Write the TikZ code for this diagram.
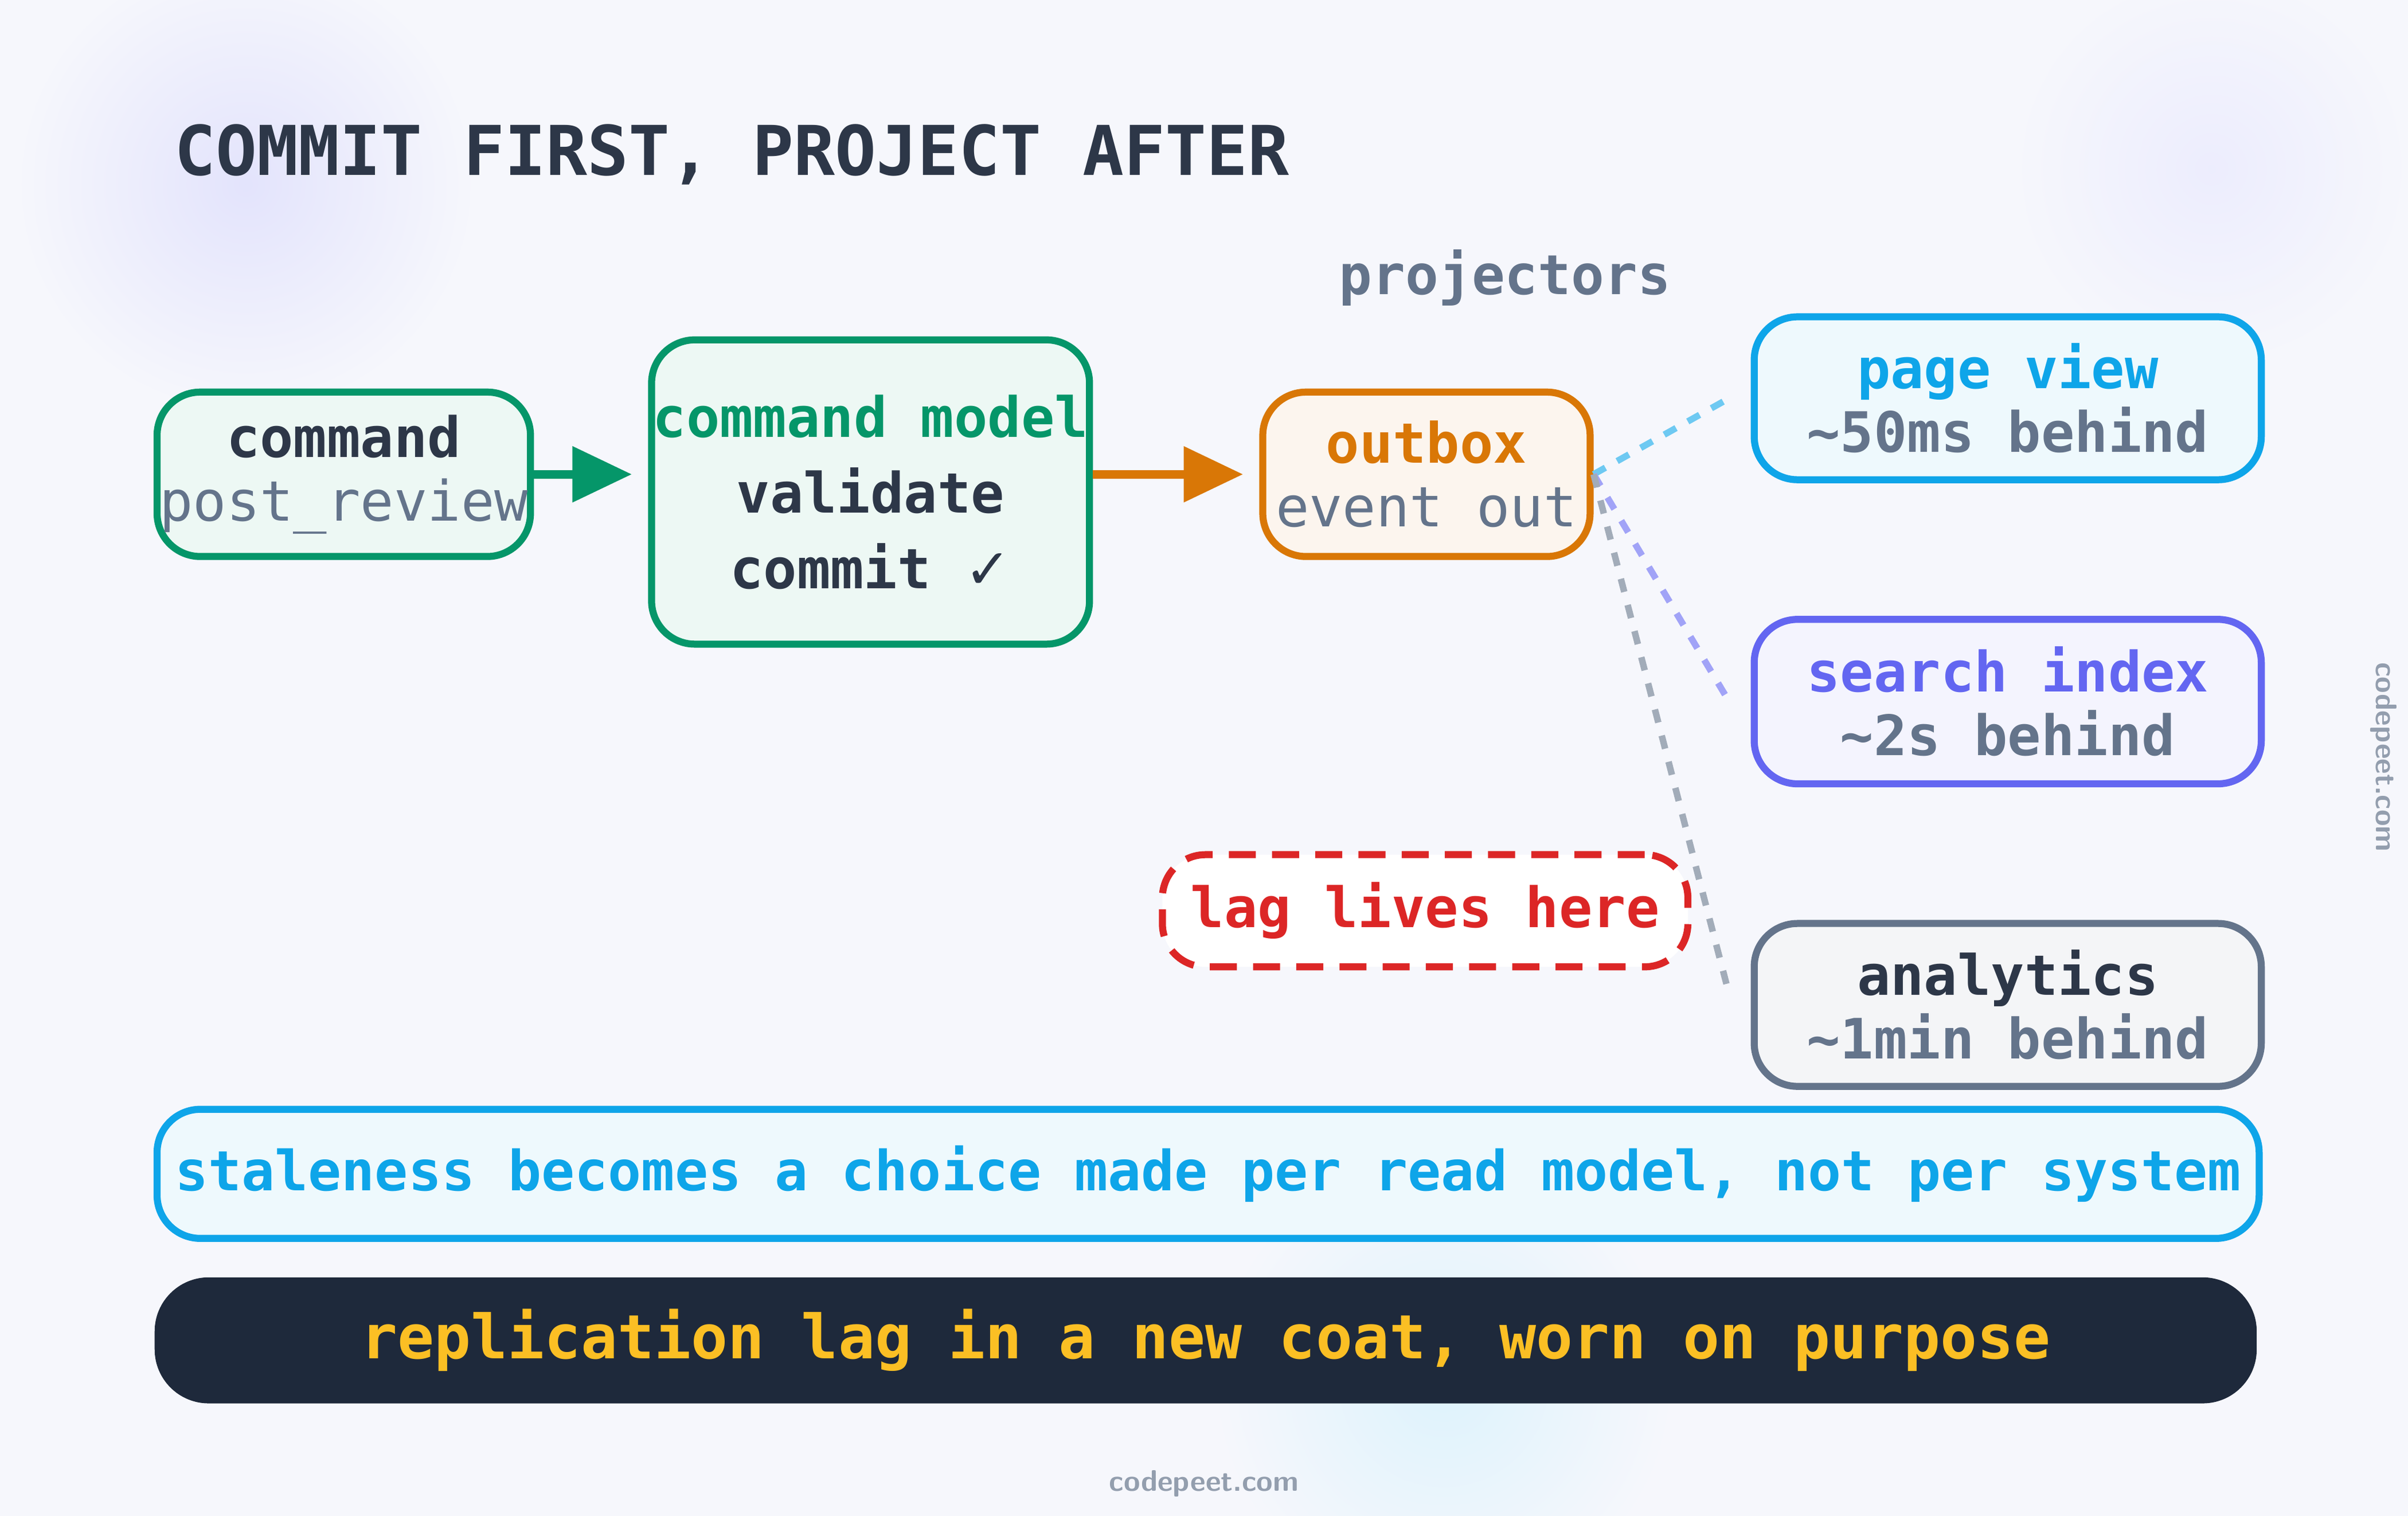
\documentclass[tikz,border=0pt]{standalone}
\usepackage{fontspec}
\setmainfont{DejaVu Sans}
\setmonofont{DejaVu Sans Mono}
\usetikzlibrary{positioning,arrows.meta}
\definecolor{ink}{HTML}{2D3748}
\definecolor{slate}{HTML}{64748B}
\definecolor{grn}{HTML}{059669}
\definecolor{org}{HTML}{D97706}
\definecolor{sky}{HTML}{0EA5E9}
\definecolor{ind}{HTML}{6366F1}
\definecolor{lagred}{HTML}{DC2626}
\definecolor{night}{HTML}{1E293B}
\definecolor{amber}{HTML}{FBBF24}
\definecolor{bg}{HTML}{F6F7FC}
\tikzset{
  txt/.style={font=\ttfamily\fontsize{10.3}{11.8}\selectfont, align=center},
  card/.style={txt, draw=#1, line width=1.3pt, rounded corners=8pt, fill=#1!7, inner sep=0pt, anchor=north west},
  link/.style={line width=1.2pt, dash pattern=on 2.5pt off 2.5pt, #1},
  flow/.style={line width=1.6pt, -{Triangle[length=11pt,width=10pt]}, #1}
}
\begin{document}
\begin{tikzpicture}[x=0.01cm,y=-0.01cm]
  \useasboundingbox (0,0) rectangle (1568,987);
  \clip (0,0) rectangle (1568,987);
  \fill[bg] (0,0) rectangle (1568,987);
  \shade[inner color=ind!18, outer color=bg] (160,120) circle (150);
  \shade[inner color=ind!12, outer color=bg] (1440,110) circle (130);
  \shade[inner color=sky!14, outer color=bg] (940,900) circle (150);

  \node[anchor=base west, inner sep=0pt, font=\ttfamily\bfseries\fontsize{12.7}{15}\selectfont, text=ink] (title) at (113,114) {COMMIT FIRST, PROJECT AFTER};

  \node[card=grn, minimum width=2.43cm, minimum height=1.07cm] (cmd) at (100,253) {\textbf{\textcolor{ink}{command}}\\\textcolor{slate}{post\_review}};
  \node[card=grn, minimum width=2.85cm, minimum height=1.98cm, font=\ttfamily\fontsize{10.3}{14}\selectfont] (model) at (422,219) {\textbf{\textcolor{grn}{command model}}\\\textbf{\textcolor{ink}{validate}}\\\textbf{\textcolor{ink}{commit \fontspec{DejaVu Sans}✓}}};
  \node[card=org, minimum width=2.13cm, minimum height=1.07cm] (outbox) at (820,253) {\textbf{\textcolor{org}{outbox}}\\\textcolor{slate}{event out}};
  \node[txt, text=slate, font=\ttfamily\bfseries\fontsize{10.2}{12}\selectfont] (proj) at (980,181) {projectors};

  \node[card=sky, minimum width=3.3cm, minimum height=1.06cm] (page) at (1140,204) {\textbf{\textcolor{sky}{page view}}\\\textbf{\textcolor{slate}{\textasciitilde50ms behind}}};
  \node[card=ind, minimum width=3.3cm, minimum height=1.07cm] (search) at (1140,401) {\textbf{\textcolor{ind}{search index}}\\\textbf{\textcolor{slate}{\textasciitilde2s behind}}};
  \node[card=slate, minimum width=3.3cm, minimum height=1.06cm] (ana) at (1140,599) {\textbf{\textcolor{ink}{analytics}}\\\textbf{\textcolor{slate}{\textasciitilde1min behind}}};

  \node[txt, draw=lagred, line width=1.3pt, dash pattern=on 5pt off 3pt, rounded corners=8pt, fill=white, minimum width=3.42cm, minimum height=0.73cm, text=lagred, font=\ttfamily\bfseries\fontsize{10.3}{12}\selectfont] (lag) at (928,593) {lag lives here};

  \node[card=sky, minimum width=13.68cm, minimum height=0.84cm, font=\ttfamily\bfseries\fontsize{10.25}{12}\selectfont, text=sky] (stale) at (100,720) {staleness becomes a choice made per read model, not per system};
  \node[anchor=north west, fill=night, rounded corners=10pt, minimum width=13.68cm, minimum height=0.82cm, inner sep=0pt, font=\ttfamily\bfseries\fontsize{11.3}{13}\selectfont, text=amber] (coat) at (100,831) {replication lag in a new coat, worn on purpose};

  \draw[flow=grn] (cmd.east) -- ([xshift=-3]model.west |- cmd.east);
  \draw[flow=org] (model.east |- outbox.west) -- ([xshift=-3]outbox.west);
  \coordinate (tap) at (outbox.east);
  \draw[link=sky!60] (tap) -- ([xshift=-4]page.west);
  \draw[link=ind!60] (tap) -- ([xshift=-4]search.west);
  \draw[link=slate!60] (tap) -- ([xshift=-4,yshift=2]ana.west);

  \node[font=\sffamily\bfseries\fontsize{5.5}{7}\selectfont, text=slate!70] (foot) at (784,966) {codepeet.com};
  \node[font=\sffamily\bfseries\fontsize{5.5}{7}\selectfont, text=slate!70, rotate=-90] (side) at (1552,493) {codepeet.com};
\end{tikzpicture}
\end{document}
